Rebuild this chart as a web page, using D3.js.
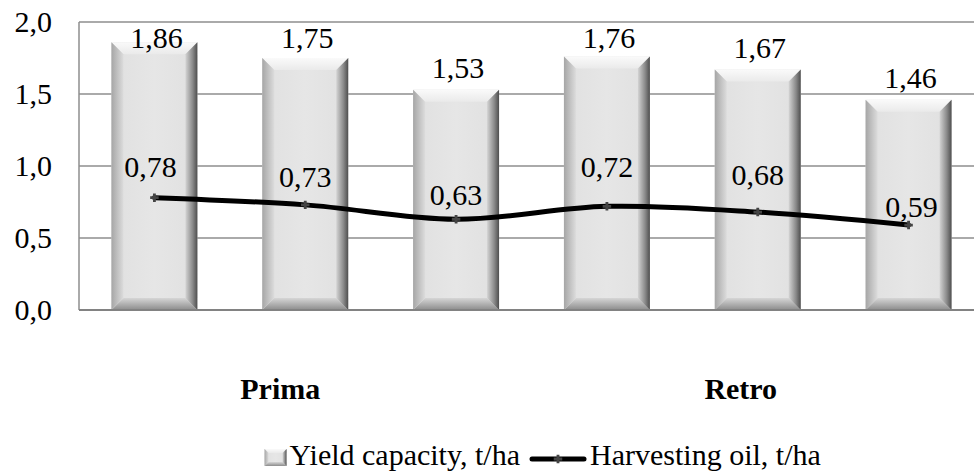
<!DOCTYPE html>
<html><head><meta charset="utf-8">
<script src="https://cdn.jsdelivr.net/npm/d3@7"></script>
<style>
body{margin:0;background:#fff}
svg{display:block}
</style>
</head><body><svg id="c" width="974" height="474"></svg>
<script>
// ---- data ----
const categories = ["Prima-1","Prima-2","Prima-3","Retro-1","Retro-2","Retro-3"];
const groups = ["Prima","Retro"];
const groupOf = ["Prima","Prima","Prima","Retro","Retro","Retro"];
const yieldCapacity = [1.86,1.75,1.53,1.76,1.67,1.46];
const harvestingOil = [0.78,0.73,0.63,0.72,0.68,0.59];
const yTicks = [0,0.5,1.0,1.5,2.0];
const seriesNames = ["Yield capacity, t/ha","Harvesting oil, t/ha"];
// label placement (layout only)
const lineLabelDy = [-21,-18,-14,-29,-27,-8];
const lineLabelDx = [-4,0,0,0,0,3];
const groupLabelDx = [-25,-17];

const FONT = "'Liberation Serif', Tinos, 'Times New Roman', 'DejaVu Serif', serif";
const svg = d3.select("#c").attr("font-family", FONT);
const fmt2 = v => d3.format(".2f")(v).replace(".", ",");
const fmt1 = v => d3.format(".1f")(v).replace(".", ",");

const pLeft = 79, pRight = 984, pTop = 22, pBottom = 310;
const x = d3.scaleBand().domain(categories).range([pLeft, pRight]).paddingInner(0.43).paddingOuter(0.215);
const y = d3.scaleLinear().domain([0, 2]).range([pBottom, pTop]);
const bw = x.bandwidth();
const cx = c => x(c) + bw / 2;

// gradients
const defs = svg.append("defs");
function lin(id, x1, y1, x2, y2, stops){
  const g = defs.append("linearGradient").attr("id", id)
    .attr("x1", x1).attr("y1", y1).attr("x2", x2).attr("y2", y2);
  stops.forEach(s => g.append("stop").attr("offset", s[0]).attr("stop-color", s[1]));
}
lin("gFace","0","0","1","0",[["0","#e0e0e0"],["0.5","#e6e6e6"],["1","#e0e0e0"]]);
lin("gTop","0","0","0","1",[["0","#fafafa"],["1","#eaeaea"]]);
lin("gLeft","0","0","1","0",[["0","#a6a6a6"],["1","#dcdcdc"]]);
lin("gRight","0","0","1","0",[["0","#d4d4d4"],["0.6","#8a8a8a"],["1","#4e4e4e"]]);
lin("gBottom","0","0","0","1",[["0","#d6d6d6"],["1","#8c8c8c"]]);

// gridlines
const grid = svg.append("g");
grid.selectAll("line").data(yTicks.filter(t => t > 0)).join("line")
  .attr("x1", pLeft).attr("x2", 974).attr("y1", d => y(d)).attr("y2", d => y(d))
  .attr("stroke", "#8e8e8e").attr("stroke-width", 1.5);
// left axis line
svg.append("line").attr("x1", pLeft).attr("x2", pLeft).attr("y1", y(2)).attr("y2", y(0))
  .attr("stroke", "#8e8e8e").attr("stroke-width", 1.5);

// y tick labels
svg.append("g").selectAll("text").data(yTicks).join("text")
  .attr("x", 52).attr("y", d => y(d) + 10).attr("text-anchor", "end")
  .attr("font-size", 30).text(d => fmt1(d));

// beveled bar drawer
function bevelBar(g, x0, y0, w, h, b){
  const x1 = x0 + w, y1 = y0 + h;
  g.append("rect").attr("x", x0).attr("y", y0).attr("width", w).attr("height", h).attr("fill", "url(#gFace)");
  const poly = (pts, fill) => g.append("polygon").attr("points", pts.map(p => p.join(",")).join(" ")).attr("fill", fill);
  poly([[x0,y0],[x1,y0],[x1-b,y0+b],[x0+b,y0+b]], "url(#gTop)");
  poly([[x0,y1],[x1,y1],[x1-b,y1-b],[x0+b,y1-b]], "url(#gBottom)");
  poly([[x0,y0],[x0+b,y0+b],[x0+b,y1-b],[x0,y1]], "url(#gLeft)");
  poly([[x1,y0],[x1-b,y0+b],[x1-b,y1-b],[x1,y1]], "url(#gRight)");
}

// bars
const barsG = svg.append("g");
categories.forEach((c, i) => {
  const g = barsG.append("g");
  bevelBar(g, x(c), y(yieldCapacity[i]), bw, y(0) - y(yieldCapacity[i]), 12);
});

// x axis line
svg.append("line").attr("x1", pLeft).attr("x2", 974).attr("y1", y(0)).attr("y2", y(0))
  .attr("stroke", "#828282").attr("stroke-width", 2);

// bar labels
svg.append("g").selectAll("text").data(categories).join("text")
  .attr("x", d => cx(d) + 2)
  .attr("y", (d, i) => Math.max(y(yieldCapacity[i]) - 12, 48))
  .attr("text-anchor", "middle").attr("font-size", 30)
  .text((d, i) => fmt2(yieldCapacity[i]));

// line
const line = d3.line().x(d => cx(d.c)).y(d => y(d.v)).curve(d3.curveCatmullRom.alpha(0.5));
const pts = categories.map((c, i) => ({c, v: harvestingOil[i]}));
svg.append("path").datum(pts).attr("d", line)
  .attr("fill", "none").attr("stroke", "#000").attr("stroke-width", 5).attr("stroke-linecap", "round");
// markers
const star = d3.symbol().type(d3.symbolCross).size(40);
svg.append("g").selectAll("path").data(pts).join("path")
  .attr("transform", d => `translate(${cx(d.c)},${y(d.v)})`)
  .attr("d", star).attr("fill", "#444");

// line labels
svg.append("g").selectAll("text").data(pts).join("text")
  .attr("x", (d, i) => cx(d.c) + lineLabelDx[i])
  .attr("y", (d, i) => y(d.v) + lineLabelDy[i])
  .attr("text-anchor", "middle").attr("font-size", 30)
  .text(d => fmt2(d.v));

// group labels
groups.forEach((gname, gi) => {
  const idx = groupOf.map((g, i) => g === gname ? i : -1).filter(i => i >= 0);
  const mid = d3.mean(idx, i => cx(categories[i]));
  svg.append("text").attr("x", mid + groupLabelDx[gi]).attr("y", 399).attr("text-anchor", "middle")
    .attr("font-size", 30).attr("font-weight", "bold").text(gname);
});

// legend
const lg = svg.append("g");
const t1 = lg.append("text").attr("x", 520).attr("y", 465).attr("text-anchor", "end")
  .attr("font-size", 30).text(seriesNames[0]);
const t1w = t1.node().getComputedTextLength();
const sw = lg.append("g");
bevelBar(sw, 520 - t1w - 25, 449, 22, 17, 4);
lg.append("line").attr("x1", 532).attr("x2", 584).attr("y1", 459).attr("y2", 459)
  .attr("stroke", "#000").attr("stroke-width", 5).attr("stroke-linecap", "round");
lg.append("path").attr("transform", "translate(558,459)").attr("d", star).attr("fill", "#444");
lg.append("text").attr("x", 590).attr("y", 465).attr("font-size", 30).text(seriesNames[1]);
</script>
</body></html>
